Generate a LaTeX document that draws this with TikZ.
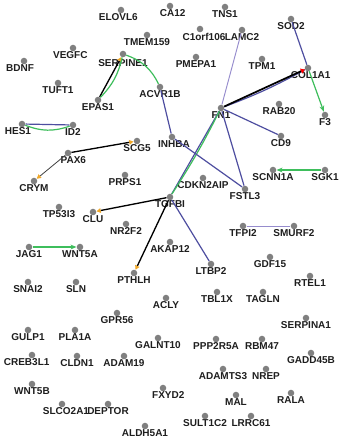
\documentclass[tikz,border=0pt]{standalone}
\usepackage{fontspec}
\setmainfont{Liberation Sans}
\usetikzlibrary{arrows.meta}
\definecolor{dotgray}{RGB}{128,128,128}
\definecolor{labelgray}{RGB}{30,30,30}
\definecolor{linkblue}{RGB}{78,78,160}
\definecolor{linkgreen}{RGB}{62,190,92}
\definecolor{linklilac}{RGB}{150,140,205}
\definecolor{tiporange}{RGB}{240,168,40}
\tikzset {
gene/.style={shape=circle,fill=dotgray,inner sep=0pt,minimum size=4.9pt,label distance=2.3pt},
every label/.style={font=\bfseries\fontsize{7.5}{8}\selectfont,text=labelgray,inner sep=0pt},
bind/.style={draw=linkblue,line width=0.9pt},
expr/.style={draw=linkgreen,line width=0.9pt},
weak/.style={draw=linklilac,line width=0.7pt},
reg/.style={draw=black,line width=1pt,-{Triangle[length=3.2pt,width=3.4pt,color=tiporange]}},
act/.style={expr,-{Stealth[length=4.5pt,width=3.6pt]}}
}
\begin{document}
\begin{tikzpicture}
[x=0.75pt,y=-0.75pt]
\fill[white] (0,0) rectangle (338,447);
% genes, top to bottom
\node (elovl6) at (121,10) [gene,label={[xshift=-2pt]below:ELOVL6}] {};
\node (ca12) at (170,6) [gene,label={[xshift=2pt]below:CA12}] {};
\node (tns1) at (225,7) [gene,label=below:TNS1] {};
\node (c1orf106) at (200,29) [gene,label={[xshift=3pt]below:C1orf106}] {};
\node (lamc2) at (242,30) [gene,label=below:LAMC2] {};
\node (sod2) at (291,19) [gene,label=below:SOD2] {};
\node (tmem159) at (147,35) [gene,label=below:TMEM159] {};
\node (vegfc) at (73,48) [gene,label={[xshift=-2pt]below:VEGFC}] {};
\node (serpine1) at (123,54) [gene,label={[yshift=-1pt]below:SERPINE1}] {};
\node (bdnf) at (24,61) [gene,label={[xshift=-3pt]below:BDNF}] {};
\node (pmepa1) at (196,57) [gene,label=below:PMEPA1] {};
\node (tpm1) at (262,59) [gene,label=below:TPM1] {};
\node (col1a1) at (308,68) [gene,label={[xshift=2pt]below:COL1A1}] {};
\node (tuft1) at (58,83) [gene,label=below:TUFT1] {};
\node (acvr1b) at (160,87) [gene,label=below:ACVR1B] {};
\node (epas1) at (98,100) [gene,label=below:EPAS1] {};
\node (fn1) at (221,108) [gene,label=below:FN1] {};
\node (rab20) at (279,104) [gene,label=below:RAB20] {};
\node (f3) at (325,115) [gene,label=below:F3] {};
\node (hes1) at (22,124) [gene,label={[xshift=-3pt]below:HES1}] {};
\node (id2) at (73,125) [gene,label=below:ID2] {};
\node (cd9) at (281,136) [gene,label=below:CD9] {};
\node (inhba) at (172,137) [gene,label={[xshift=1.5pt]below:INHBA}] {};
\node (scg5) at (137,141) [gene,label=below:SCG5] {};
\node (pax6) at (68,153) [gene,label={[xshift=4pt]below:PAX6}] {};
\node (scnn1a) at (273,170) [gene,label=below:SCNN1A] {};
\node (sgk1) at (325,170) [gene,label=below:SGK1] {};
\node (prps1) at (125,175) [gene,label=below:PRPS1] {};
\node (cdkn2aip) at (203,178) [gene,label=below:CDKN2AIP] {};
\node (crym) at (34,181) [gene,label=below:CRYM] {};
\node (fstl3) at (245,189) [gene,label=below:FSTL3] {};
\node (tgfbi) at (170,197) [gene,label=below:TGFBI] {};
\node (tp53i3) at (59,207) [gene,label=below:TP53I3] {};
\node (clu) at (93,212) [gene,label=below:CLU] {};
\node (nr2f2) at (126,224) [gene,label=below:NR2F2] {};
\node (tfpi2) at (243,226) [gene,label=below:TFPI2] {};
\node (smurf2) at (294,226) [gene,label=below:SMURF2] {};
\node (akap12) at (170,242) [gene,label=below:AKAP12] {};
\node (jag1) at (29,247) [gene,label=below:JAG1] {};
\node (wnt5a) at (80,247) [gene,label=below:WNT5A] {};
\node (gdf15) at (270,257) [gene,label=below:GDF15] {};
\node (ltbp2) at (211,264) [gene,label=below:LTBP2] {};
\node (pthlh) at (134,273) [gene,label=below:PTHLH] {};
\node (rtel1) at (310,276) [gene,label=below:RTEL1] {};
\node (snai2) at (28,282) [gene,label=below:SNAI2] {};
\node (sln) at (76,282) [gene,label=below:SLN] {};
\node (tbl1x) at (217,292) [gene,label=below:TBL1X] {};
\node (tagln) at (263,292) [gene,label=below:TAGLN] {};
\node (acly) at (166,298) [gene,label=below:ACLY] {};
\node (gpr56) at (117,313) [gene,label=below:GPR56] {};
\node (serpina1) at (306,318) [gene,label=below:SERPINA1] {};
\node (gulp1) at (28,330) [gene,label=below:GULP1] {};
\node (pla1a) at (75,330) [gene,label=below:PLA1A] {};
\node (galnt10) at (158,338) [gene,label=below:GALNT10] {};
\node (ppp2r5a) at (216,339) [gene,label=below:PPP2R5A] {};
\node (rbm47) at (262,339) [gene,label=below:RBM47] {};
\node (gadd45b) at (311,353) [gene,label=below:GADD45B] {};
\node (creb3l1) at (32,355) [gene,label={[xshift=-4pt]below:CREB3L1}] {};
\node (cldn1) at (77,356) [gene,label=below:CLDN1] {};
\node (adam19) at (124,356) [gene,label=below:ADAM19] {};
\node (adamts3) at (223,369) [gene,label=below:ADAMTS3] {};
\node (nrep) at (266,369) [gene,label=below:NREP] {};
\node (wnt5b) at (32,384) [gene,label=below:WNT5B] {};
\node (fxyd2) at (163,388) [gene,label={[xshift=4pt]below:FXYD2}] {};
\node (rala) at (291,393) [gene,label=below:RALA] {};
\node (mal) at (236,395) [gene,label=below:MAL] {};
\node (slco2a1) at (62,404) [gene,label={[xshift=3pt]below:SLCO2A1}] {};
\node (deptor) at (108,404) [gene,label=below:DEPTOR] {};
\node (sult1c2) at (205,416) [gene,label=below:SULT1C2] {};
\node (lrrc61) at (251,416) [gene,label=below:LRRC61] {};
\node (aldh5a1) at (145,426) [gene,label=below:ALDH5A1] {};
% links
\draw[reg] (epas1) -- (serpine1);
\draw[expr] (epas1) to[bend right=15] (serpine1);
\draw[expr] (serpine1) to[bend left=22] (acvr1b);
\draw[bind] (acvr1b) -- (inhba);
\draw[bind] (hes1) -- (id2);
\draw[expr] (hes1) to[bend right=20] (id2);
\draw[reg] (pax6) -- (scg5);
\draw[reg,draw=darkgray,line width=0.6pt] (pax6) -- (crym);
\draw[reg] (tgfbi) -- (clu);
\draw[reg] (tgfbi) -- (pthlh);
\draw[bind] (fn1) -- (tgfbi);
\draw[expr] (fn1) to[bend left=3] (tgfbi);
\draw[bind] (inhba) -- (fstl3);
\draw[bind] (fn1) -- (fstl3);
\draw[bind] (tgfbi) -- (ltbp2);
\draw[weak] (fn1) -- (lamc2);
\draw[bind] (fn1) to[bend right=4] (col1a1);
\draw[draw=black,line width=1.3pt,-{Triangle[length=3pt,width=4pt,color=red]}] (fn1) -- (col1a1);
\draw[bind] (sod2) -- (col1a1);
\draw[act] (col1a1) -- (f3);
\draw[bind] (fn1) -- (cd9);
\draw[act] (sgk1) -- (scnn1a);
\draw[weak] (tfpi2) -- (smurf2);
\draw[act] (jag1) -- (wnt5a);
\end{tikzpicture}
\end{document}
